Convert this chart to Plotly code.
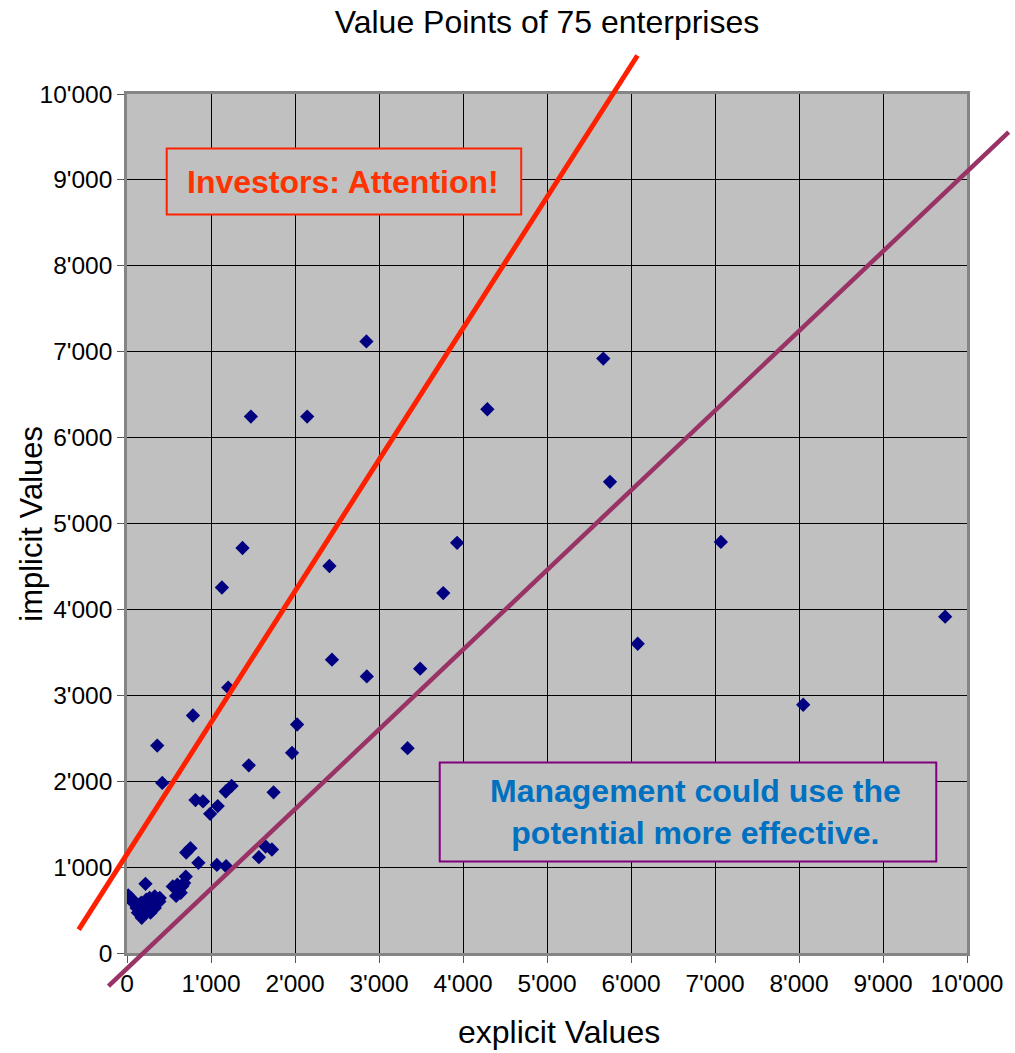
import plotly.graph_objects as go

# ---- data ----
explicit_values = [
    2850, 5670, 1475, 2145, 4290, 5750, 1375, 2410, 3765, 3930,
    1130, 7070, 9740, 6080, 8050, 2440, 2855, 3490, 1205, 785,
    360, 2025, 1965, 3340, 1450, 420, 815, 905, 990, 1080,
    1175, 1245, 1745, 705, 755, 850, 1070, 1180, 1570, 1650,
    1725, 700, 680, 600, 545, 640, 585, 220, 15, 75,
    115, 175, 130, 190, 230, 250, 290, 310, 270, 330,
    350, 390, 385, 330, 170, 60, 220, 280, 45, 140,
    200, 360, 620, 660, 260,
]
implicit_values = [
    7120, 6920, 6245, 6245, 6330, 5485, 4715, 4505, 4190, 4775,
    4255, 4785, 3915, 3600, 2890, 3415, 3220, 3310, 3090, 2765,
    2415, 2660, 2330, 2385, 2185, 1980, 1780, 1765, 1620, 1710,
    1880, 1945, 1870, 1170, 1220, 1050, 1025, 1010, 1115, 1240,
    1205, 890, 815, 795, 775, 700, 665, 805, 670, 585,
    525, 410, 470, 490, 620, 545, 585, 510, 640, 660,
    620, 640, 600, 525, 585, 620, 560, 470, 640, 560,
    450, 580, 740, 780, 590,
]

tick_values = [0, 1000, 2000, 3000, 4000, 5000, 6000, 7000, 8000, 9000, 10000]
tick_labels = ["0", "1'000", "2'000", "3'000", "4'000", "5'000",
               "6'000", "7'000", "8'000", "9'000", "10'000"]

# guide lines (end points in data units, they run past the plot frame)
red_line_x = [-575, 6077]
red_line_y = [273, 10448]
purple_line_x = [-221, 10496]
purple_line_y = [-386, 9556]

axis_range = [0, 10000]

FONT = "Liberation Sans, Arial, sans-serif"

fig = go.Figure()
fig.add_trace(go.Scatter(
    x=explicit_values, y=implicit_values, mode="markers",
    marker=dict(symbol="diamond", size=11, color="#000080",
                line=dict(width=0)),
    showlegend=False, hoverinfo="x+y",
))


def to_paper(v):
    return (v - axis_range[0]) / (axis_range[1] - axis_range[0])


# callout boxes
fig.add_shape(type="rect", xref="x", yref="y", x0=473, x1=4693, y0=8597, y1=9366,
              fillcolor="#C0C0C0", line=dict(color="#FF2200", width=2),
              layer="above")
fig.add_shape(type="rect", xref="x", yref="y", x0=3723, x1=9634, y0=1065, y1=2218,
              fillcolor="#C0C0C0", line=dict(color="#800080", width=2),
              layer="above")

for xs, ys, col, w in [(red_line_x, red_line_y, "#FF2000", 5),
                       (purple_line_x, purple_line_y, "#993366", 4.5)]:
    fig.add_shape(type="line", xref="paper", yref="paper",
                  x0=to_paper(xs[0]), y0=to_paper(ys[0]),
                  x1=to_paper(xs[1]), y1=to_paper(ys[1]),
                  line=dict(color=col, width=w), layer="above")

fig.add_annotation(
    x=2570, y=8975, xref="x", yref="y", xanchor="center", yanchor="middle",
    text="<b>Investors: Attention!</b>", showarrow=False,
    font=dict(family=FONT, size=32, color="#FF3300"),
)
fig.add_annotation(
    x=6773, y=1641, xref="x", yref="y", xanchor="center", yanchor="middle",
    text="<b>Management could use the<br>potential more effective.</b>",
    showarrow=False,
    font=dict(family=FONT, size=32, color="#0070C0"),
)

# axis titles
fig.add_annotation(
    x=0.514, y=-0.092, xref="paper", yref="paper", xanchor="center",
    yanchor="middle", text="explicit Values", showarrow=False,
    font=dict(family=FONT, size=32, color="#000000"),
)
fig.add_annotation(
    x=-0.114, y=0.5, xref="paper", yref="paper", xanchor="center",
    yanchor="middle", text="implicit Values", showarrow=False, textangle=-90,
    font=dict(family=FONT, size=31, color="#000000"),
)

axis_common = dict(
    range=axis_range, tickvals=tick_values, ticktext=tick_labels,
    showgrid=True, gridcolor="#000000", gridwidth=1,
    showline=True, linecolor="#858585", linewidth=2.5, mirror=True,
    ticks="outside", ticklen=7, tickcolor="#555555", tickwidth=1,
    zeroline=False, tickfont=dict(family=FONT, size=24.5, color="#000000"),
    ticklabeloverflow="allow", fixedrange=True,
)

fig.update_layout(
    width=1015, height=1053,
    margin=dict(l=127, r=42, t=94, b=100),
    paper_bgcolor="#FFFFFF", plot_bgcolor="#C0C0C0",
    title=dict(text="Value Points of 75 enterprises", x=0.5, xref="paper",
               xanchor="center", y=0.979, yref="container", yanchor="middle",
               font=dict(family=FONT, size=32, color="#000000")),
    xaxis=axis_common,
    yaxis=axis_common,
    font=dict(family=FONT),
)

# remove the browser's default body margin so the figure fills the window
fig.write_html(
    "out.html",
    config={"displayModeBar": False},
    post_script="document.body.style.margin='0';"
                "document.body.style.overflow='hidden';",
)
